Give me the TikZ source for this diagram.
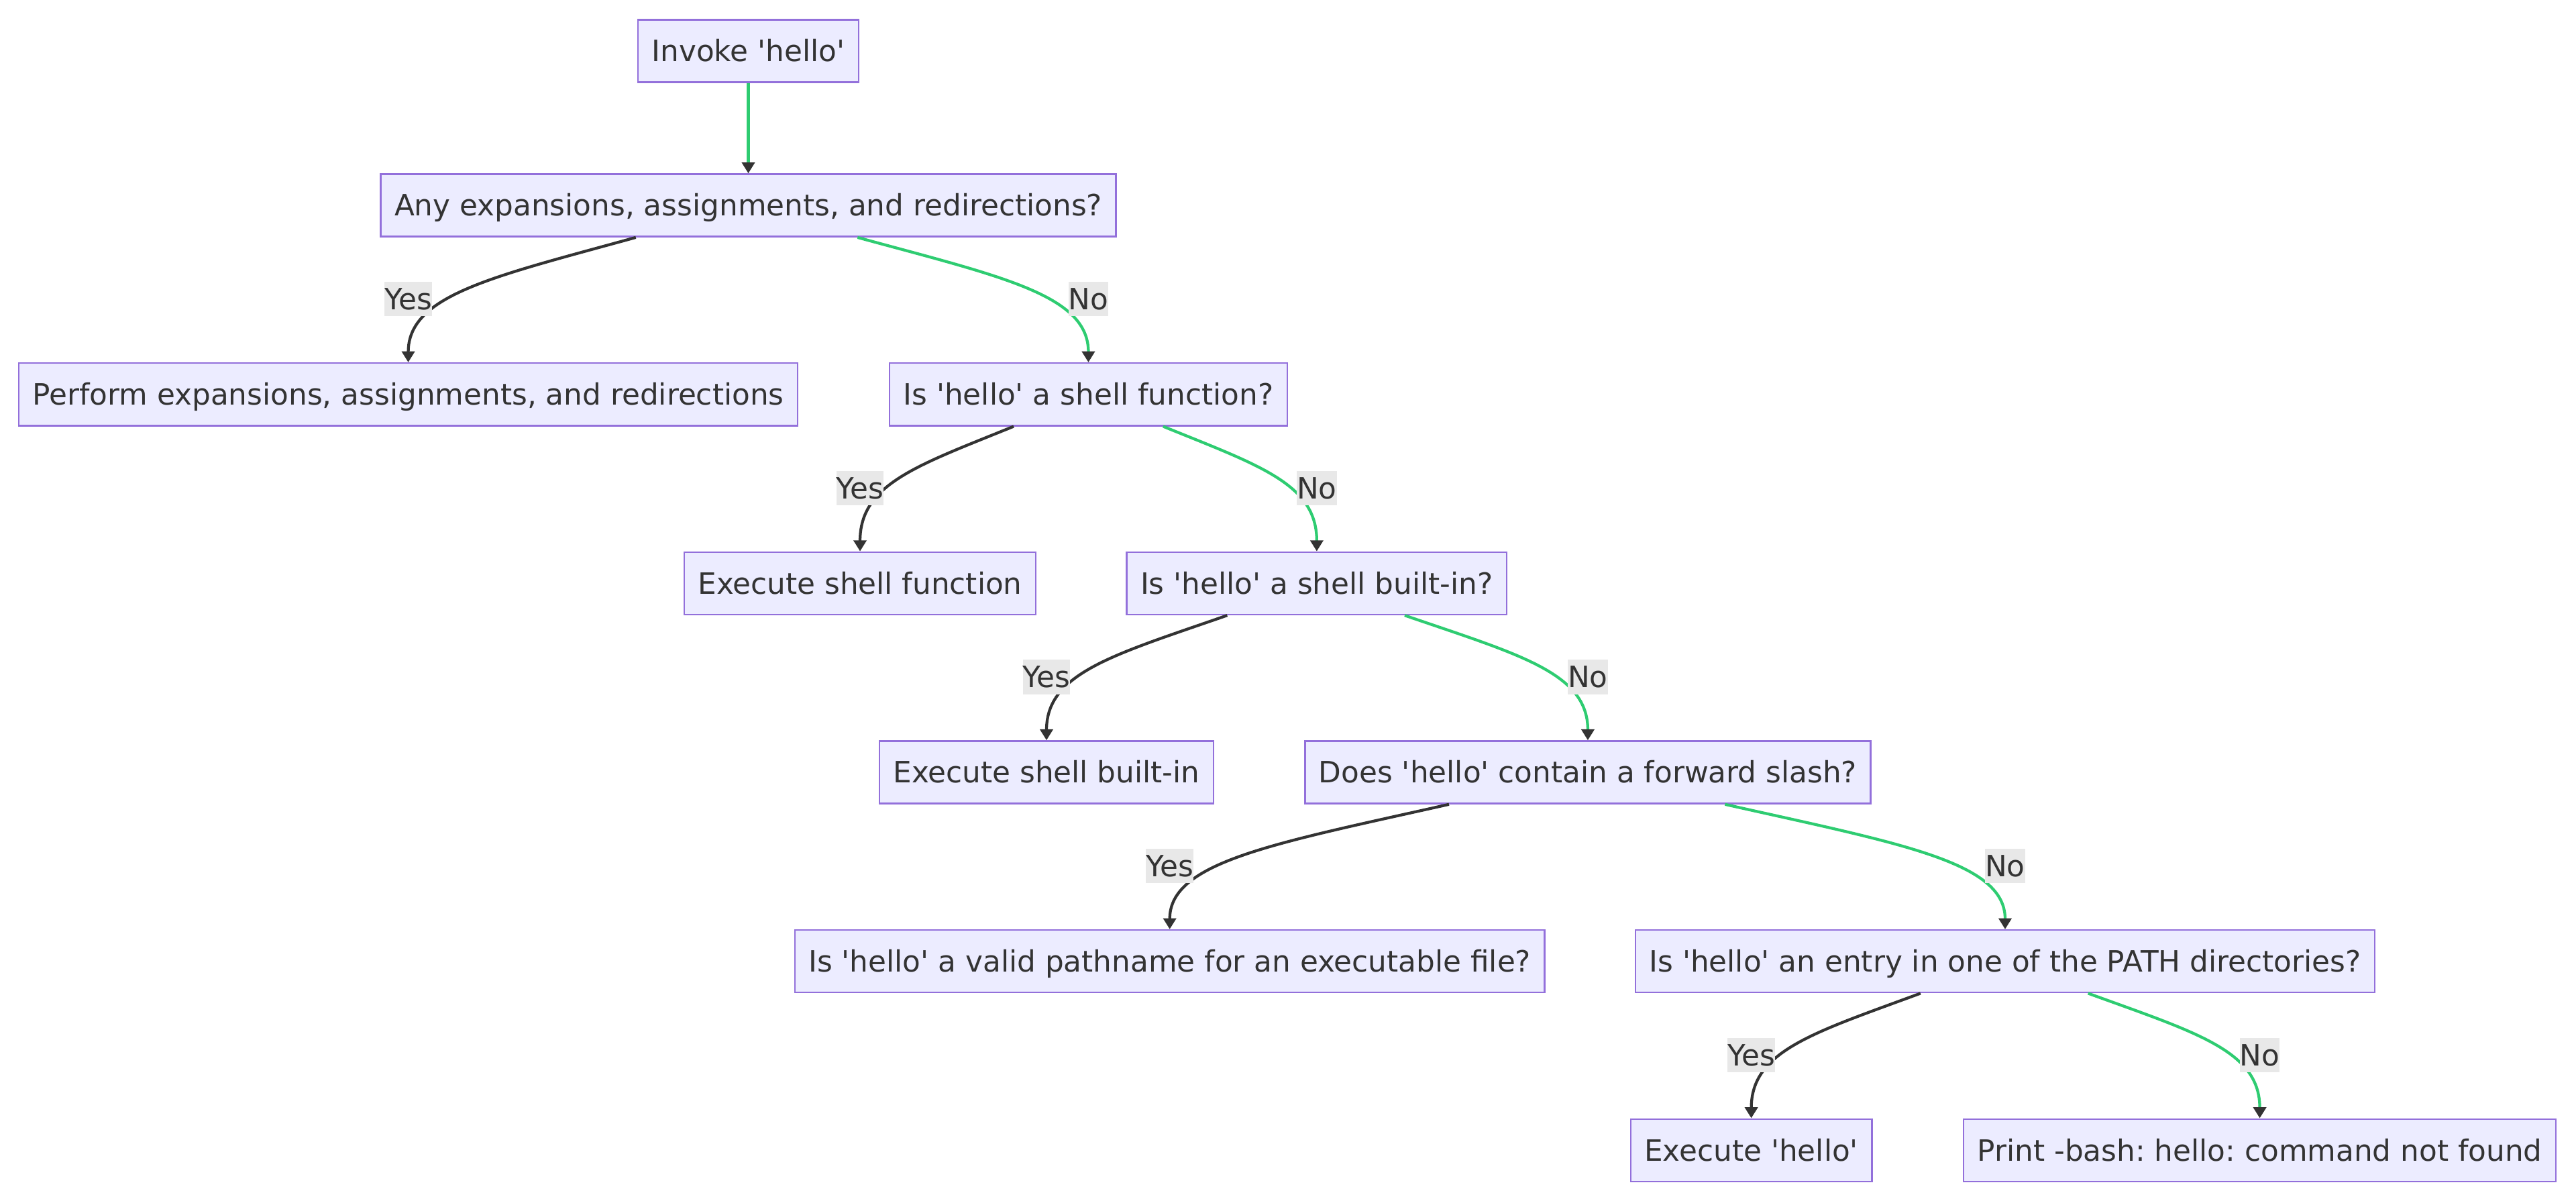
\documentclass[tikz,border=0pt]{standalone}
\usepackage{fontspec}
\newfontfamily\chartfont{DejaVu Sans}
\usetikzlibrary{arrows.meta,calc}
\definecolor{boxfill}{HTML}{ECECFF}
\definecolor{boxline}{HTML}{9370DB}
\definecolor{ink}{HTML}{333333}
\definecolor{nogreen}{HTML}{2ECC71}
\definecolor{lblbg}{HTML}{E8E8E8}
\frenchspacing
\begin{document}
\begin{tikzpicture}[x=0.75pt,y=-0.75pt,
  box/.style={draw=boxline,fill=boxfill,line width=0.75pt,text=ink,font=\chartfont\fontsize{13.4}{16}\selectfont,
    inner xsep=6.3pt,inner ysep=0pt,minimum height=28.5pt,text height=9.7pt,text depth=0pt},
  lbl/.style={fill=lblbg,text=ink,font=\chartfont\fontsize{13.4}{16}\selectfont,
    inner xsep=0pt,inner ysep=3pt,text height=9.7pt,text depth=0pt},
  yes/.style={draw=ink,line width=1.3pt,-{Triangle[length=5pt,width=5.8pt,color=ink]}},
  no/.style={yes,draw=nogreen}]
\useasboundingbox (0,0) rectangle (1568,727);

\node[box] (invoke) at (455.5,31) {Invoke 'hello'};
\node[box] (anyexp) at (455.5,125) {Any expansions, assignments, and redirections?};
\node[box] (perform) at (248.5,240) {Perform expansions, assignments, and redirections};
\node[box] (isfunc) at (662.5,240) {Is 'hello' a shell function?};
\node[box] (execfunc) at (523.5,355) {Execute shell function};
\node[box] (isbuiltin) at (801.5,355) {Is 'hello' a shell built-in?};
\node[box] (execbuiltin) at (637,470) {Execute shell built-in};
\node[box] (hasslash) at (966.5,470) {Does 'hello' contain a forward slash?};
\node[box] (isvalid) at (712,585) {Is 'hello' a valid pathname for an executable file?};
\node[box] (inpath) at (1220.5,585) {Is 'hello' an entry in one of the PATH directories?};
\node[box] (exechello) at (1066,700) {Execute 'hello'};
\node[box] (notfound) at (1375.5,700) {Print -bash: hello: command not found};

\path[no] (invoke.south) -- (anyexp.north);
\path[yes] ($(anyexp.south)+(-68.5,0)$) .. controls +(-87,24) and +(0,-41) .. (perform.north);
\path[no] ($(anyexp.south)+(66.5,0)$) .. controls +(88,24) and +(0,-41) .. (isfunc.north);
\path[yes] ($(isfunc.south)+(-45.5,0)$) .. controls +(-59,24) and +(0,-41) .. (execfunc.north);
\path[no] ($(isfunc.south)+(45.5,0)$) .. controls +(59,24) and +(0,-41) .. (isbuiltin.north);
\path[yes] ($(isbuiltin.south)+(-54.5,0)$) .. controls +(-69,24) and +(0,-41) .. (execbuiltin.north);
\path[no] ($(isbuiltin.south)+(53.5,0)$) .. controls +(70,24) and +(0,-41) .. (hasslash.north);
\path[yes] ($(hasslash.south)+(-84.5,0)$) .. controls +(-107,24) and +(0,-41) .. (isvalid.north);
\path[no] ($(hasslash.south)+(83.5,0)$) .. controls +(107,24) and +(0,-41) .. (inpath.north);
\path[yes] ($(inpath.south)+(-51.5,0)$) .. controls +(-65,24) and +(0,-41) .. (exechello.north);
\path[no] ($(inpath.south)+(50.5,0)$) .. controls +(66,24) and +(0,-41) .. (notfound.north);

\node[lbl] (yes1) at ($(perform.north)+(0,-38.5)$) {Yes};
\node[lbl] (no1) at ($(isfunc.north)+(0,-38.5)$) {No};
\node[lbl] (yes2) at ($(execfunc.north)+(0,-38.5)$) {Yes};
\node[lbl] (no2) at ($(isbuiltin.north)+(0,-38.5)$) {No};
\node[lbl] (yes3) at ($(execbuiltin.north)+(0,-38.5)$) {Yes};
\node[lbl] (no3) at ($(hasslash.north)+(0,-38.5)$) {No};
\node[lbl] (yes4) at ($(isvalid.north)+(0,-38.5)$) {Yes};
\node[lbl] (no4) at ($(inpath.north)+(0,-38.5)$) {No};
\node[lbl] (yes5) at ($(exechello.north)+(0,-38.5)$) {Yes};
\node[lbl] (no5) at ($(notfound.north)+(0,-38.5)$) {No};
\end{tikzpicture}
\end{document}
